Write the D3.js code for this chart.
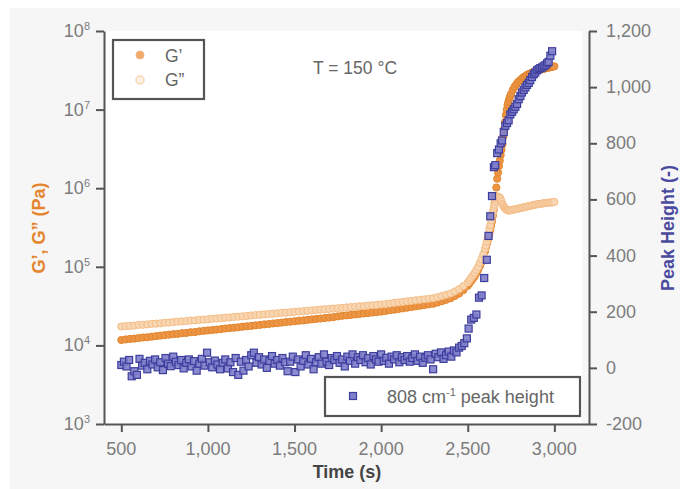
<!DOCTYPE html>
<html>
<head>
<meta charset="utf-8">
<script src="https://cdn.jsdelivr.net/npm/d3@7"></script>
<style>
  body { margin: 0; background: #fff; }
  text { font-family: "Liberation Sans", Arial, sans-serif; }
</style>
</head>
<body>
<div id="chart"></div>
<script>
// time (s) for the rheology points
const gTime = [
  500, 525, 550, 575, 600, 625, 650, 675, 700, 725, 750, 775, 800, 825, 850, 875, 900, 925, 950, 975,
  1000, 1025, 1050, 1075, 1100, 1125, 1150, 1175, 1200, 1225, 1250, 1275, 1300, 1325, 1350, 1375, 1400, 1425, 1450, 1475,
  1500, 1525, 1550, 1575, 1600, 1625, 1650, 1675, 1700, 1725, 1750, 1775, 1800, 1825, 1850, 1875, 1900, 1925, 1950, 1975,
  2000, 2025, 2050, 2075, 2100, 2125, 2150, 2175, 2200, 2225, 2250, 2275, 2300, 2325, 2350, 2375, 2400, 2425, 2450, 2475,
  2500, 2510, 2520, 2530, 2540, 2550, 2560, 2570, 2580, 2590, 2600,
  2605, 2610, 2615, 2620, 2625, 2630, 2635, 2640, 2645, 2650, 2655, 2660, 2665, 2670, 2675, 2680, 2685, 2690, 2695, 2700,
  2705, 2710, 2715, 2720, 2725, 2730, 2735, 2740, 2745,
  2750, 2760, 2770, 2780, 2790, 2800, 2810, 2820, 2830, 2840, 2850, 2860, 2870, 2880, 2890, 2900,
  2910, 2920, 2930, 2940, 2950, 2960, 2970, 2980, 2990, 3000
];

// G' (Pa)
const gPrime = [
  11700, 11900, 12100, 12200, 12400, 12600, 12700, 12900, 13100, 13300, 13500, 13700, 13900, 14000, 14300, 14400, 14700, 14800, 15100, 15300,
  15500, 15700, 15900, 16100, 16400, 16600, 16800, 17000, 17300, 17500, 17700, 18000, 18200, 18500, 18700, 19000, 19200, 19500, 19800, 20000,
  20300, 20600, 20800, 21100, 21400, 21700, 22000, 22300, 22600, 22900, 23400, 23800, 24100, 24400, 24800, 25100, 25500, 25800, 26200, 26500,
  26900, 27400, 28000, 28500, 29000, 29600, 30200, 30800, 31400, 32000, 32600, 33300, 33900, 35100, 36500, 38000, 39800, 42500, 45700, 50700,
  57500, 61700, 66100, 70800, 75900, 83200, 91200, 102000, 115000, 135000, 158000,
  176000, 195000, 216000, 240000, 266000, 295000, 335000, 380000, 447000, 525000, 646000, 794000, 1020000, 1320000, 1580000, 1910000, 2240000, 2630000, 3090000, 3630000,
  4520000, 5620000, 6920000, 8510000, 10000000, 11500000, 12600000, 13800000, 14800000,
  15800000, 17800000, 19500000, 20900000, 22400000, 23400000, 24500000, 25700000, 26300000, 27500000, 28200000, 28800000, 29500000, 30200000, 30900000, 31600000,
  32000000, 32400000, 32700000, 33100000, 33500000, 33900000, 34300000, 34700000, 35100000, 35500000
];

// G" (Pa)
const gDouble = [
  17400, 17600, 17700, 17900, 18200, 18300, 18500, 18800, 18900, 19100, 19400, 19500, 19800, 20000, 20200, 20400, 20700, 20800, 21100, 21300,
  21500, 21800, 22000, 22200, 22500, 22700, 23000, 23200, 23500, 23700, 24000, 24300, 24500, 24800, 25100, 25300, 25600, 25900, 26100, 26400,
  26700, 27000, 27300, 27600, 27900, 28200, 28500, 28800, 29100, 29400, 29700, 30100, 30400, 30700, 31000, 31400, 31700, 32100, 32400, 32700,
  33100, 33600, 34100, 34700, 35200, 35700, 36300, 36900, 37400, 38000, 38600, 39200, 39800, 41000, 42500, 44000, 45700, 48400, 51900, 56900,
  63100, 67600, 72400, 77600, 83200, 91200, 100000, 112000, 126000, 145000, 170000,
  186000, 209000, 234000, 263000, 302000, 339000, 389000, 447000, 501000, 562000, 617000, 676000, 724000, 759000, 776000, 776000, 759000, 724000, 676000, 631000,
  603000, 575000, 556000, 543000, 531000, 525000, 525000, 519000, 525000,
  525000, 531000, 537000, 543000, 550000, 556000, 562000, 569000, 575000, 582000, 589000, 596000, 603000, 610000, 617000, 624000,
  631000, 631000, 638000, 646000, 646000, 653000, 653000, 661000, 661000, 668000
];

// time (s) for the Raman peak points
const peakTime = [
  500, 515, 530, 545, 560, 575, 590, 605, 620, 635, 650, 665, 680, 695, 710, 725, 740, 755, 770, 785,
  800, 815, 830, 845, 860, 875, 890, 905, 920, 935, 950, 965, 980, 995, 1010, 1025, 1040, 1055, 1070, 1085,
  1100, 1115, 1130, 1145, 1160, 1175, 1190, 1205, 1220, 1235, 1250, 1265, 1280, 1295, 1310, 1325, 1340, 1355, 1370, 1385,
  1400, 1415, 1430, 1445, 1460, 1475, 1490, 1505, 1520, 1535, 1550, 1565, 1580, 1595, 1610, 1625, 1640, 1655, 1670, 1685,
  1700, 1715, 1730, 1745, 1760, 1775, 1790, 1805, 1820, 1835, 1850, 1865, 1880, 1895, 1910, 1925, 1940, 1955, 1970, 1985,
  2000, 2015, 2030, 2045, 2060, 2075, 2090, 2105, 2120, 2135, 2150, 2165, 2180, 2195, 2210, 2225, 2240, 2255, 2270, 2285,
  2300, 2315, 2330, 2345, 2360, 2375, 2390, 2405, 2420, 2435, 2450, 2465, 2480, 2495,
  2505, 2520, 2535, 2550, 2565, 2580, 2595, 2610, 2620, 2630, 2640, 2651, 2659, 2670, 2680, 2690, 2698, 2708, 2717, 2727,
  2736, 2746, 2756, 2765, 2775, 2785, 2794, 2804, 2813, 2823, 2833, 2842, 2852, 2861, 2871, 2881, 2890, 2900, 2910, 2919,
  2929, 2938, 2948, 2958, 2967, 2977, 2987
];

// 808 cm-1 peak height (-)
const peakHeight = [
  10, 22, 5, 28, -30, -12, -25, 32, 8, 18, -5, 25, 12, 30, 2, 20, -8, 35, 15, 6,
  40, 22, 10, 28, -2, 18, 30, 5, 24, -10, 15, 32, 8, 54, 20, 2, 26, 12, -5, 18,
  30, -2, 20, -15, 35, -25, 22, -10, 28, 5, 45, 54, 18, 38, 12, 30, 0, 25, 42, 15,
  28, 8, 35, 20, -12, 22, 40, -15, 30, 5, 25, 45, 12, 32, -5, 20, 38, 15, 48, 22,
  10, 35, 28, 42, 18, 30, 5, 40, 25, 48, 15, 38, 28, 45, 20, 35, 12, 42, 30, 22,
  48, 25, 36, 15, 40, 30, 45, 20, 38, 28, 42, 22, 35, 48, 25, 40, 18, 36, 45, 30,
  -5, 50, 38, 55, 32, 45, 58, 40, 62, 55, 72, 78, 88, 105,
  140, 172, 178, 190, 250, 258, 320, 385, 470, 540, 612, 715, 722, 765, 778, 800, 810, 840, 862, 872,
  882, 903, 912, 921, 930, 940, 957, 968, 981, 990, 999, 1008, 1015, 1025, 1036, 1046, 1052, 1060, 1064, 1068,
  1070, 1074, 1078, 1085, 1090, 1112, 1128
];

const xTicks = [500, 1000, 1500, 2000, 2500, 3000];
const leftTicks = [1e3, 1e4, 1e5, 1e6, 1e7, 1e8];
const rightTicks = [-200, 0, 200, 400, 600, 800, 1000, 1200];

const width = 680, height = 489;
const axisColor = "#555";
const labelColor = "#7c7c7c";

const svg = d3.select("#chart")
  .append("svg")
  .attr("width", width)
  .attr("height", height);

// grey panel and white plot area
svg.append("rect")
  .attr("x", 10).attr("y", 8)
  .attr("width", 670).attr("height", 481)
  .attr("fill", "#f6f6f6");
svg.append("rect")
  .attr("x", 105).attr("y", 31)
  .attr("width", 477).attr("height", 393)
  .attr("fill", "#fff");

const x = d3.scaleLinear().domain([400, 3200]).range([104, 589]);
const yG = d3.scaleLog().domain([1e3, 1e8]).range([424, 31]);
const yP = d3.scaleLinear().domain([-200, 1200]).range([424, 31]);

// G' points
svg.append("g")
  .selectAll("circle")
  .data(gTime)
  .join("circle")
  .attr("cx", d => x(d))
  .attr("cy", (d, i) => yG(gPrime[i]))
  .attr("r", 3.6)
  .attr("fill", "#ec9645")
  .attr("stroke", "#e3852e")
  .attr("stroke-width", 1);

// G" points
svg.append("g")
  .selectAll("circle")
  .data(gTime)
  .join("circle")
  .attr("cx", d => x(d))
  .attr("cy", (d, i) => yG(gDouble[i]))
  .attr("r", 3.6)
  .attr("fill", "#f9d6b2")
  .attr("stroke", "#f4bd86")
  .attr("stroke-width", 1);

// peak height squares
const sq = 7;
svg.append("g")
  .selectAll("rect")
  .data(peakTime)
  .join("rect")
  .attr("x", d => x(d) - sq / 2)
  .attr("y", (d, i) => yP(peakHeight[i]) - sq / 2)
  .attr("width", sq)
  .attr("height", sq)
  .attr("fill", "#7e7ecb")
  .attr("stroke", "#3d3d9d")
  .attr("stroke-width", 1.2)
  .attr("fill-opacity", 0.9);

// axes
function styleAxis(g) {
  g.select(".domain").attr("stroke", axisColor).attr("stroke-width", 2);
  g.selectAll(".tick line").attr("stroke", axisColor).attr("stroke-width", 2);
  g.selectAll(".tick text").remove();
}

svg.append("g")
  .attr("transform", "translate(0,424)")
  .call(d3.axisBottom(x).tickValues(xTicks).tickSize(8).tickSizeOuter(0))
  .call(styleAxis);

svg.append("g")
  .attr("transform", "translate(104,0)")
  .call(d3.axisLeft(yG).tickValues(leftTicks).tickSize(8).tickSizeOuter(0))
  .call(styleAxis);

svg.append("g")
  .attr("transform", "translate(589,0)")
  .call(d3.axisRight(yP).tickValues(rightTicks).tickSize(8).tickSizeOuter(0))
  .call(styleAxis);

// tick labels
const fmt = v => d3.format(",")(v).replace("\u2212", "-");

svg.append("g")
  .selectAll("text")
  .data(xTicks)
  .join("text")
  .attr("x", d => x(d))
  .attr("y", 455)
  .attr("text-anchor", "middle")
  .attr("font-size", 18)
  .attr("fill", labelColor)
  .text(fmt);

svg.append("g")
  .selectAll("text")
  .data(rightTicks)
  .join("text")
  .attr("x", 606)
  .attr("y", d => yP(d) + 6)
  .attr("font-size", 18)
  .attr("fill", labelColor)
  .text(fmt);

const leftLabels = svg.append("g")
  .selectAll("text")
  .data(leftTicks)
  .join("text")
  .attr("x", 90)
  .attr("y", d => yG(d) + 6)
  .attr("text-anchor", "end")
  .attr("font-size", 18)
  .attr("fill", labelColor);
leftLabels.append("tspan").text("10");
leftLabels.append("tspan")
  .attr("font-size", 11)
  .attr("dy", -7)
  .text(d => Math.round(Math.log10(d)));

// axis titles
svg.append("text")
  .attr("x", 347)
  .attr("y", 478)
  .attr("text-anchor", "middle")
  .attr("font-size", 18)
  .attr("font-weight", "bold")
  .attr("fill", "#454545")
  .text("Time (s)");

svg.append("text")
  .attr("transform", "translate(45,228) rotate(-90)")
  .attr("text-anchor", "middle")
  .attr("font-size", 18)
  .attr("font-weight", "bold")
  .attr("fill", "#e5852d")
  .text("G\u2019, G\u201d (Pa)");

svg.append("text")
  .attr("transform", "translate(674,228) rotate(-90)")
  .attr("text-anchor", "middle")
  .attr("font-size", 18)
  .attr("font-weight", "bold")
  .attr("fill", "#4a4a9e")
  .text("Peak Height (-)");

// temperature note
svg.append("text")
  .attr("x", 313)
  .attr("y", 74)
  .attr("font-size", 17.5)
  .attr("fill", "#666")
  .text("T = 150 \u00b0C");

// legend for G', G"
svg.append("rect")
  .attr("x", 113).attr("y", 40)
  .attr("width", 91).attr("height", 59)
  .attr("fill", "#fff")
  .attr("stroke", axisColor)
  .attr("stroke-width", 2.2);

svg.append("circle")
  .attr("cx", 140).attr("cy", 55).attr("r", 4)
  .attr("fill", "#f1ab6c").attr("stroke", "#f2b47c");
svg.append("circle")
  .attr("cx", 140).attr("cy", 80).attr("r", 4)
  .attr("fill", "#fdf0e3").attr("stroke", "#f8d6b5").attr("stroke-width", 1.5);

svg.append("text")
  .attr("x", 165).attr("y", 62)
  .attr("font-size", 17.5).attr("fill", "#666")
  .text("G\u2019");
svg.append("text")
  .attr("x", 165).attr("y", 86)
  .attr("font-size", 17.5).attr("fill", "#666")
  .text("G\u201d");

// legend for peak height
svg.append("rect")
  .attr("x", 325).attr("y", 377)
  .attr("width", 255).attr("height", 39)
  .attr("fill", "#fff")
  .attr("stroke", axisColor)
  .attr("stroke-width", 2.2);

svg.append("rect")
  .attr("x", 353 - sq / 2).attr("y", 396 - sq / 2)
  .attr("width", sq).attr("height", sq)
  .attr("fill", "#7e7ecb").attr("stroke", "#3d3d9d").attr("stroke-width", 1.2);

const legText = svg.append("text")
  .attr("x", 387).attr("y", 403)
  .attr("font-size", 18).attr("fill", "#666");
legText.append("tspan").text("808 cm");
legText.append("tspan").attr("font-size", 11).attr("dy", -7).text("-1");
legText.append("tspan").attr("dy", 7).text(" peak height");
</script>
</body>
</html>
